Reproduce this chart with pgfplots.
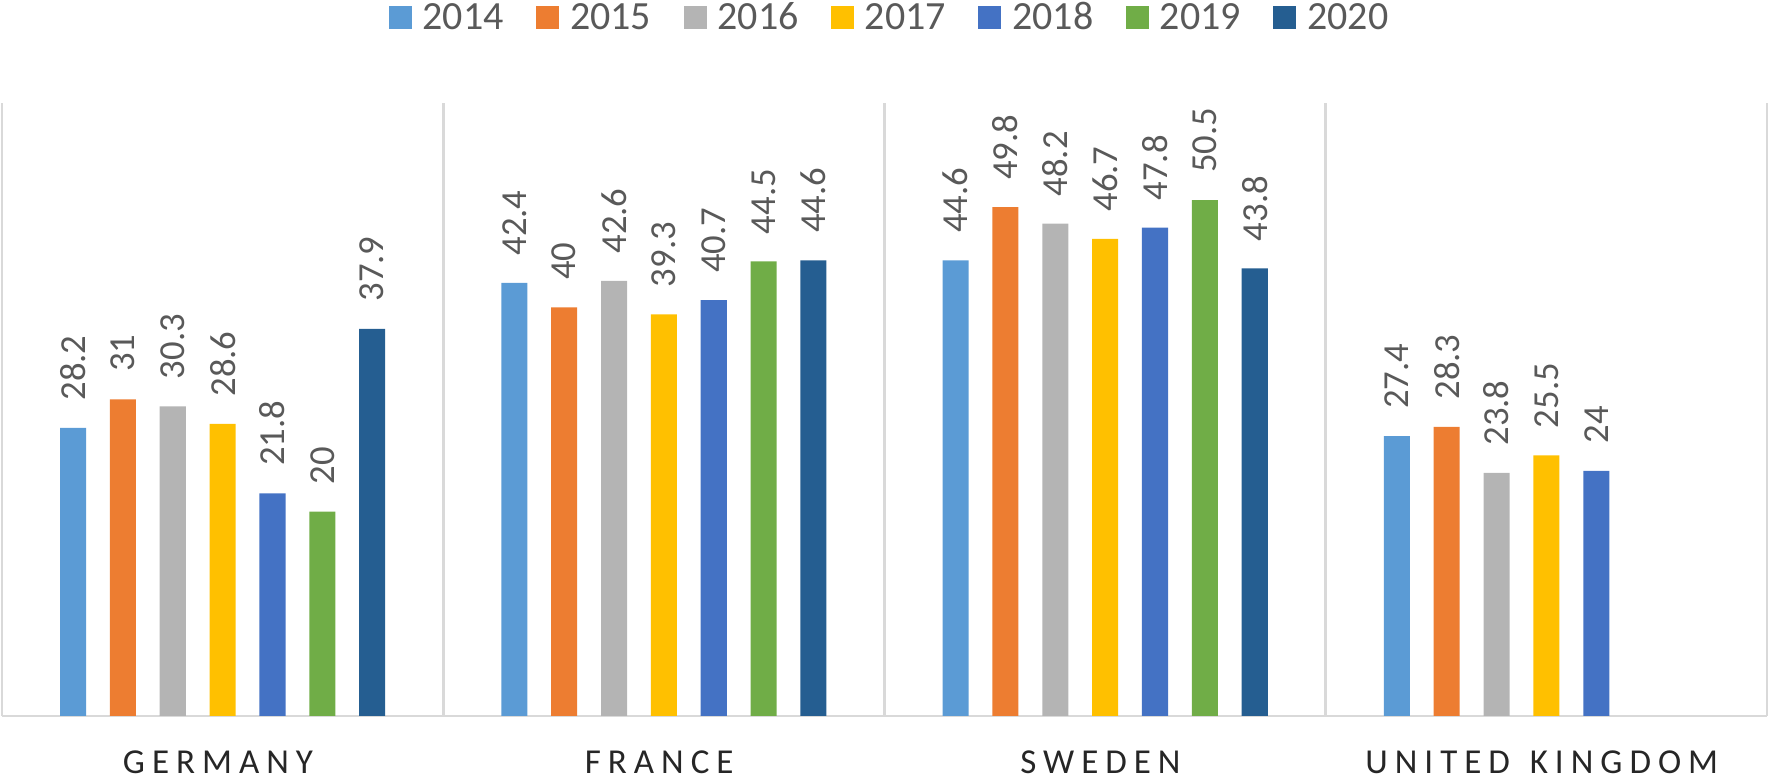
\documentclass[border=0pt]{standalone}
\usepackage{pgfplots}
\pgfplotsset{compat=1.18}
\usepackage{fontspec}
\setmainfont{Carlito}
\definecolor{c14}{HTML}{5B9BD5}
\definecolor{c15}{HTML}{ED7D31}
\definecolor{c16}{HTML}{B4B4B4}
\definecolor{c17}{HTML}{FFC000}
\definecolor{c18}{HTML}{4472C4}
\definecolor{c19}{HTML}{70AD47}
\definecolor{c20}{HTML}{255E91}
\definecolor{gridc}{HTML}{D9D9D9}
\definecolor{txt}{HTML}{595959}
\definecolor{cat}{HTML}{262626}
\pgfplotsset{sq/.style={legend image code/.code={\fill[##1,draw=none] (0pt,-3.8pt) rectangle (6.9pt,3.1pt);}}}
\begin{document}
\begin{tikzpicture}
\begin{axis}[name=ax,
  scale only axis, width=529.5pt, height=183.9pt,
  xmin=-0.5, xmax=3.5, ymin=0, ymax=60,
  ybar, bar width=0.059,
  axis x line*=bottom, axis y line=none,
  x axis line style={draw=gridc, line width=0.8pt, -},
  ytick=\empty,
  xtick={0,1,2,3},
  xticklabels={GERMANY,FRANCE,SWEDEN,UNITED\hspace{1.5pt} KINGDOM},
  major tick length=0pt, minor tick length=0pt,
  minor xtick={-0.5,0.5,1.5,2.5,3.5},
  xminorgrids=true,
  minor x grid style={draw=gridc, line width=0.8pt},
  xticklabel style={anchor=base, inner sep=0pt, yshift=-17.2pt, xshift=-1.4pt, text=cat,
    font=\fontsize{10.5}{12}\selectfont\addfontfeature{LetterSpace=20}},
  /pgf/number format/assume math mode=true,
  nodes near coords,
  every node near coord/.append style={rotate=90, anchor=west, inner sep=0pt, inner xsep=8pt,
    font=\fontsize{11}{13}\selectfont, text=txt},
  legend columns=-1,
  legend style={at={(0.5,1)}, anchor=north, yshift=30.3pt, xshift=1.2pt,
    draw=none, fill=none, inner sep=0pt,
    font=\fontsize{12}{14}\selectfont, text=txt,
    nodes={inner sep=0pt, text depth=0pt},
    /tikz/every odd column/.append style={column sep=3.3pt},
    /tikz/every even column/.append style={column sep=9.7pt}},
]
\addplot[sq, fill=c14, draw=none, bar shift=-0.339] coordinates {(0,28.2) (1,42.4) (2,44.6) (3,27.4)};
\addplot[sq, fill=c15, draw=none, bar shift=-0.226] coordinates {(0,31) (1,40) (2,49.8) (3,28.3)};
\addplot[sq, fill=c16, draw=none, bar shift=-0.113] coordinates {(0,30.3) (1,42.6) (2,48.2) (3,23.8)};
\addplot[sq, fill=c17, draw=none, bar shift=0] coordinates {(0,28.6) (1,39.3) (2,46.7) (3,25.5)};
\addplot[sq, fill=c18, draw=none, bar shift=0.113] coordinates {(0,21.8) (1,40.7) (2,47.8) (3,24)};
\addplot[sq, fill=c19, draw=none, bar shift=0.226] coordinates {(0,20) (1,44.5) (2,50.5)};
\addplot[sq, fill=c20, draw=none, bar shift=0.339] coordinates {(0,37.9) (1,44.6) (2,43.8)};
\legend{2014,2015,2016,2017,2018,2019,2020}
\end{axis}
\pgfresetboundingbox
\path[use as bounding box] ([xshift=-0.6pt,yshift=-18.3pt]ax.south west) rectangle ([xshift=0.9pt,yshift=30.9pt]ax.north east);
\end{tikzpicture}
\end{document}
